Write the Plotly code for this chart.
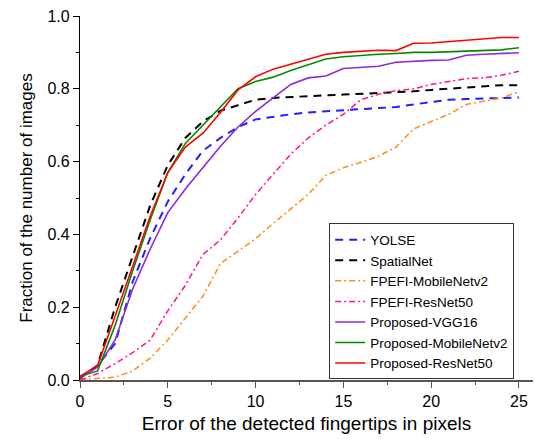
import plotly.graph_objects as go

x = list(range(26))

yolse = [0.005, 0.04, 0.10, 0.27, 0.39, 0.49, 0.565, 0.63, 0.665, 0.695, 0.716, 0.724, 0.73, 0.735, 0.738, 0.74, 0.743,
         0.747, 0.75, 0.757, 0.763, 0.77, 0.772, 0.774, 0.775, 0.776]
spatialnet = [0.005, 0.04, 0.20, 0.34, 0.48, 0.59, 0.665, 0.71, 0.74, 0.755, 0.77, 0.775, 0.778, 0.78, 0.782, 0.784,
              0.786, 0.788, 0.79, 0.793, 0.797, 0.80, 0.803, 0.806, 0.81, 0.81]
fpefi_mobilenet = [0.0, 0.003, 0.008, 0.025, 0.06, 0.11, 0.17, 0.23, 0.32, 0.355, 0.388, 0.43, 0.47, 0.51, 0.562, 0.583,
                   0.598, 0.615, 0.64, 0.69, 0.71, 0.73, 0.757, 0.765, 0.775, 0.792]
fpefi_resnet = [0.0, 0.018, 0.045, 0.075, 0.11, 0.19, 0.26, 0.345, 0.385, 0.445, 0.51, 0.565, 0.62, 0.665, 0.70, 0.73,
                0.77, 0.785, 0.795, 0.80, 0.812, 0.82, 0.828, 0.83, 0.837, 0.848]
prop_vgg = [0.005, 0.035, 0.11, 0.25, 0.36, 0.46, 0.525, 0.585, 0.642, 0.695, 0.738, 0.775, 0.812, 0.83, 0.835, 0.856,
            0.86, 0.862, 0.873, 0.876, 0.878, 0.879, 0.892, 0.895, 0.898, 0.899]
prop_mobilenet = [0.01, 0.025, 0.15, 0.30, 0.44, 0.57, 0.65, 0.70, 0.75, 0.80, 0.82, 0.832, 0.85, 0.865, 0.882, 0.888,
                  0.892, 0.895, 0.897, 0.90, 0.90, 0.902, 0.904, 0.907, 0.907, 0.913]
prop_resnet = [0.01, 0.04, 0.175, 0.31, 0.45, 0.57, 0.64, 0.678, 0.735, 0.797, 0.833, 0.854, 0.868, 0.882, 0.895, 0.90,
               0.903, 0.906, 0.905, 0.925, 0.926, 0.93, 0.934, 0.938, 0.941, 0.941]

series = [
    ("YOLSE", yolse, "#1f1fff", "8px,6px", 2),
    ("SpatialNet", spatialnet, "#000000", "8px,6px", 2),
    ("FPEFI-MobileNetv2", fpefi_mobilenet, "#ff8c1a", "6px,3px,2px,3px", 1.5),
    ("FPEFI-ResNet50", fpefi_resnet, "#ff1493", "6px,3px,2px,3px", 1.5),
    ("Proposed-VGG16", prop_vgg, "#8a2be2", "solid", 1.6),
    ("Proposed-MobileNetv2", prop_mobilenet, "#008c00", "solid", 1.6),
    ("Proposed-ResNet50", prop_resnet, "#ff0000", "solid", 1.6),
]

fig = go.Figure()
for name, ys, color, dash, w in series:
    fig.add_trace(go.Scatter(x=x, y=ys, mode="lines", name=name,
                             line=dict(color=color, dash=dash, width=w)))

font_family = "Liberation Sans, Arial, sans-serif"

fig.update_layout(
    width=535, height=439,
    margin=dict(l=80, r=2, t=16, b=59),
    paper_bgcolor="white", plot_bgcolor="white",
    font=dict(family=font_family, color="black"),
    showlegend=True,
    legend=dict(x=0.55, y=0.43, xanchor="left", yanchor="top",
                bordercolor="#333333", borderwidth=1, bgcolor="white",
                font=dict(size=13.5, family=font_family), tracegroupgap=0,
                itemwidth=30),
    xaxis=dict(range=[0, 25.8], tickvals=[0, 5, 10, 15, 20, 25], ticks="outside", ticklen=6,
               tickcolor="#555555", showline=True, linecolor="#555555", linewidth=1.5,
               showgrid=False, zeroline=False, tickfont=dict(size=16),
               minor=dict(ticks="outside", ticklen=3, dtick=2.5, tick0=0, tickcolor="#555555", showgrid=False),
               title=dict(text="Error of the detected fingertips in pixels", font=dict(size=19), standoff=8)),
    yaxis=dict(range=[0, 1.0], tickvals=[0, 0.2, 0.4, 0.6, 0.8, 1.0], tickformat=".1f",
               ticks="outside", ticklen=6, tickcolor="black", showline=True, linecolor="black",
               linewidth=1.2, showgrid=False, zeroline=False, tickfont=dict(size=16),
               minor=dict(ticks="outside", ticklen=3, dtick=0.1, tick0=0, tickcolor="black", showgrid=False),
               title=dict(text="Fraction of the number of images", font=dict(size=17), standoff=10)),
)

fig.write_html("out.html")
